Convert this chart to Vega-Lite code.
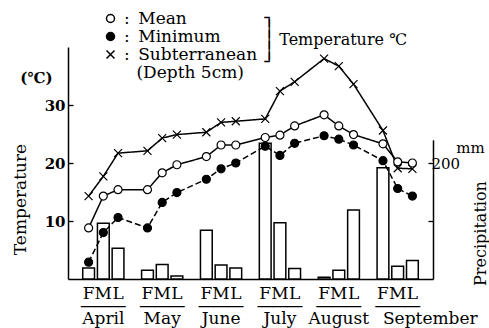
{
  "$schema": "https://vega.github.io/schema/vega-lite/v6.json",
  "width": 365,
  "height": 232,
  "autosize": {"type": "none"},
  "padding": {"left": 68, "top": 47, "right": 56, "bottom": 49},
  "background": "white",
  "config": {
    "view": {"stroke": null},
    "font": "DejaVu Serif",
    "axis": {"domainColor": "black", "tickColor": "black", "labelColor": "black", "titleColor": "black", "domainWidth": 1.5, "tickWidth": 1.3, "grid": false},
    "legend": {"labelColor": "black", "titleColor": "black"}
  },
  "datasets": {
    "rain": [
      {"p": "April F", "mm": 19}, {"p": "April M", "mm": 96}, {"p": "April L", "mm": 53},
      {"p": "May F", "mm": 15}, {"p": "May M", "mm": 25}, {"p": "May L", "mm": 5},
      {"p": "June F", "mm": 84}, {"p": "June M", "mm": 24}, {"p": "June L", "mm": 19},
      {"p": "July F", "mm": 234}, {"p": "July M", "mm": 97}, {"p": "July L", "mm": 18},
      {"p": "August F", "mm": 3}, {"p": "August M", "mm": 15}, {"p": "August L", "mm": 119},
      {"p": "September F", "mm": 192}, {"p": "September M", "mm": 22}, {"p": "September L", "mm": 32}
    ],
    "temps": [
      {"p": "April F", "s": "Mean", "t": 8.8}, {"p": "April M", "s": "Mean", "t": 14.3}, {"p": "April L", "s": "Mean", "t": 15.4},
      {"p": "May F", "s": "Mean", "t": 15.4}, {"p": "May M", "s": "Mean", "t": 18.3}, {"p": "May L", "s": "Mean", "t": 19.7},
      {"p": "June F", "s": "Mean", "t": 21.1}, {"p": "June M", "s": "Mean", "t": 23.1}, {"p": "June L", "s": "Mean", "t": 23.1},
      {"p": "July F", "s": "Mean", "t": 24.4}, {"p": "July M", "s": "Mean", "t": 24.8}, {"p": "July L", "s": "Mean", "t": 26.4},
      {"p": "August F", "s": "Mean", "t": 28.3}, {"p": "August M", "s": "Mean", "t": 26.4}, {"p": "August L", "s": "Mean", "t": 24.9},
      {"p": "September F", "s": "Mean", "t": 23.3}, {"p": "September M", "s": "Mean", "t": 20.2}, {"p": "September L", "s": "Mean", "t": 20.0},
      {"p": "April F", "s": "Minimum", "t": 2.9}, {"p": "April M", "s": "Minimum", "t": 8.0}, {"p": "April L", "s": "Minimum", "t": 10.6},
      {"p": "May F", "s": "Minimum", "t": 8.8}, {"p": "May M", "s": "Minimum", "t": 13.2}, {"p": "May L", "s": "Minimum", "t": 14.9},
      {"p": "June F", "s": "Minimum", "t": 17.2}, {"p": "June M", "s": "Minimum", "t": 19.0}, {"p": "June L", "s": "Minimum", "t": 20.0},
      {"p": "July F", "s": "Minimum", "t": 22.9}, {"p": "July M", "s": "Minimum", "t": 21.3}, {"p": "July L", "s": "Minimum", "t": 23.4},
      {"p": "August F", "s": "Minimum", "t": 24.7}, {"p": "August M", "s": "Minimum", "t": 24.1}, {"p": "August L", "s": "Minimum", "t": 23.1},
      {"p": "September F", "s": "Minimum", "t": 20.4}, {"p": "September M", "s": "Minimum", "t": 15.6}, {"p": "September L", "s": "Minimum", "t": 14.3},
      {"p": "April F", "s": "Subterranean", "t": 14.3}, {"p": "April M", "s": "Subterranean", "t": 17.7}, {"p": "April L", "s": "Subterranean", "t": 21.7},
      {"p": "May F", "s": "Subterranean", "t": 22.1}, {"p": "May M", "s": "Subterranean", "t": 24.3}, {"p": "May L", "s": "Subterranean", "t": 24.9},
      {"p": "June F", "s": "Subterranean", "t": 25.3}, {"p": "June M", "s": "Subterranean", "t": 27.0}, {"p": "June L", "s": "Subterranean", "t": 27.2},
      {"p": "July F", "s": "Subterranean", "t": 27.6}, {"p": "July M", "s": "Subterranean", "t": 32.4}, {"p": "July L", "s": "Subterranean", "t": 34.0},
      {"p": "August F", "s": "Subterranean", "t": 38.0}, {"p": "August M", "s": "Subterranean", "t": 36.7}, {"p": "August L", "s": "Subterranean", "t": 33.6},
      {"p": "September F", "s": "Subterranean", "t": 25.6}, {"p": "September M", "s": "Subterranean", "t": 19.1}, {"p": "September L", "s": "Subterranean", "t": 19.0}
    ]
  },
  "layer": [
    {
      "data": {"name": "rain"},
      "mark": {"type": "bar", "fill": "white", "stroke": "black", "strokeWidth": 1.5},
      "encoding": {
        "x": {
          "field": "p",
          "type": "ordinal",
          "title": null,
          "scale": {
            "domain": ["April F", "April M", "April L", "s1", "May F", "May M", "May L", "s2", "June F", "June M", "June L", "s3", "July F", "July M", "July L", "s4", "August F", "August M", "August L", "s5", "September F", "September M", "September L"],
            "paddingInner": 0.2,
            "paddingOuter": 1.12
          },
          "axis": {
            "orient": "bottom",
            "ticks": false,
            "domainWidth": 1.5,
            "labelAngle": 0,
            "labelFontSize": 17,
            "labelLineHeight": 12.5,
            "labelBaseline": "top",
            "labelPadding": 6,
            "labelOverlap": false,
            "labelLimit": 300,
            "labelExpr": "length(datum.value) < 4 ? '' : [slice(datum.value, -1), '—']"
          }
        },
        "y": {
          "field": "mm",
          "type": "quantitative",
          "scale": {"domain": [0, 240], "range": [232, 92.8], "nice": false},
          "axis": {
            "orient": "right",
            "title": "mm",
            "titleFontSize": 15,
            "titleFontWeight": "normal",
            "titleAngle": 0,
            "titleX": 37,
            "titleY": 100,
            "titleBaseline": "middle",
            "titleAlign": "center",
            "values": [100, 200],
            "tickSize": -5,
            "labelFontSize": 15,
            "labelPadding": 3,
            "labelAlign": "left",
            "labelExpr": "datum.value == 200 ? '200' : ''"
          }
        }
      }
    },
    {
      "data": {"name": "temps"},
      "encoding": {
        "x": {
          "field": "p",
          "type": "ordinal",
          "title": null,
          "scale": {
            "domain": ["April F", "April M", "April L", "s1", "May F", "May M", "May L", "s2", "June F", "June M", "June L", "s3", "July F", "July M", "July L", "s4", "August F", "August M", "August L", "s5", "September F", "September M", "September L"],
            "paddingInner": 0.2,
            "paddingOuter": 1.12
          },
          "axis": {
            "orient": "bottom",
            "domain": false,
            "ticks": false,
            "labelAngle": 0,
            "labelFontSize": 17,
            "labelBaseline": "top",
            "labelPadding": 31,
            "labelOverlap": false,
            "labelLimit": 300,
            "labelAlign": {"condition": {"test": "datum.value == 'September F'", "value": "left"}, "value": "center"},
            "labelExpr": "datum.value == 'September F' ? 'September' : ((length(datum.value) > 3 && datum.value != 'September M' && slice(datum.value, -1) == 'M') ? split(datum.value, ' ')[0] : '')"
          }
        }
      },
      "layer": [
        {
          "mark": {"type": "line", "color": "black", "strokeWidth": 1.5},
          "encoding": {
            "y": {
              "field": "t",
              "type": "quantitative",
              "scale": {"domain": [0, 40], "nice": false},
              "axis": {
                "orient": "left",
                "title": "Temperature",
                "titleFontSize": 17,
                "titleFontWeight": "normal",
                "titleAngle": 270,
                "titleX": -48,
                "titleY": 152,
                "titleBaseline": "middle",
                "titleAlign": "center",
                "values": [10, 20, 30],
                "tickSize": -5,
                "labelFontSize": 15,
                "labelFontWeight": "bold",
                "labelPadding": 8
              }
            },
            "strokeDash": {"field": "s", "type": "nominal", "scale": {"domain": ["Mean", "Minimum", "Subterranean"], "range": [[1, 0], [6, 3], [1, 0]]}, "legend": null},
            "order": {"value": null}
          }
        },
        {
          "mark": {"type": "point", "filled": true, "stroke": "black", "strokeWidth": 1.2, "opacity": 1},
          "encoding": {
            "y": {
              "field": "t",
              "type": "quantitative",
              "scale": {"domain": [0, 40], "nice": false},
              "axis": {
                "orient": "left",
                "domain": false,
                "ticks": false,
                "values": [34.8],
                "labelExpr": "'(℃)'",
                "labelFontSize": 15,
                "labelFontWeight": "bold",
                "labelPadding": 16,
                "title": "Precipitation",
                "titleFontSize": 16,
                "titleFontWeight": "normal",
                "titleAngle": 270,
                "titleX": 412,
                "titleY": 186,
                "titleBaseline": "middle",
                "titleAlign": "center"
              }
            },
            "shape": {
              "field": "s", "type": "nominal",
              "scale": {"domain": ["Mean", "Minimum", "Subterranean", "Depth"], "range": ["circle", "circle", "M-1,-1L1,1M1,-1L-1,1", "M0,0"]},
              "legend": {"orient": "none", "legendX": 34, "legendY": -37, "direction": "vertical", "padding": 0, "title": ["┐", "│", "│ Temperature ℃", "│", "┘"], "titleOrient": "right", "titleAnchor": "start", "titleBaseline": "top", "titleLineHeight": 11, "titleFontSize": 16, "titleFontWeight": "normal", "titlePadding": 7.5, "titleLimit": 300, "labelFontSize": 17, "labelOffset": 5, "labelLimit": 300, "rowPadding": 0, "labelExpr": "datum.label == 'Depth' ? '\u2800(Depth 5cm)' : ':\u2002' + datum.label", "encode": {"symbols": {"update": {"stroke": {"value": "black"}, "strokeWidth": {"value": 1.2}}}}}
            },
            "fill": {
              "field": "s", "type": "nominal",
              "scale": {"domain": ["Mean", "Minimum", "Subterranean", "Depth"], "range": ["white", "black", "white", "white"]},
              "legend": {"orient": "none", "legendX": 34, "legendY": -37, "direction": "vertical", "padding": 0, "title": ["┐", "│", "│ Temperature ℃", "│", "┘"], "titleOrient": "right", "titleAnchor": "start", "titleBaseline": "top", "titleLineHeight": 11, "titleFontSize": 16, "titleFontWeight": "normal", "titlePadding": 7.5, "titleLimit": 300, "labelFontSize": 17, "labelOffset": 5, "labelLimit": 300, "rowPadding": 0, "labelExpr": "datum.label == 'Depth' ? '\u2800(Depth 5cm)' : ':\u2002' + datum.label", "encode": {"symbols": {"update": {"stroke": {"value": "black"}, "strokeWidth": {"value": 1.2}}}}}
            },
            "size": {
              "field": "s", "type": "nominal",
              "scale": {"domain": ["Mean", "Minimum", "Subterranean", "Depth"], "range": [64, 64, 40, 0]},
              "legend": {"orient": "none", "legendX": 34, "legendY": -37, "direction": "vertical", "padding": 0, "title": ["┐", "│", "│ Temperature ℃", "│", "┘"], "titleOrient": "right", "titleAnchor": "start", "titleBaseline": "top", "titleLineHeight": 11, "titleFontSize": 16, "titleFontWeight": "normal", "titlePadding": 7.5, "titleLimit": 300, "labelFontSize": 17, "labelOffset": 5, "labelLimit": 300, "rowPadding": 0, "labelExpr": "datum.label == 'Depth' ? '\u2800(Depth 5cm)' : ':\u2002' + datum.label", "encode": {"symbols": {"update": {"stroke": {"value": "black"}, "strokeWidth": {"value": 1.2}}}}}
            }
          }
        }
      ],
      "resolve": {"axis": {"y": "independent"}}
    }
  ],
  "resolve": {"scale": {"y": "independent"}, "axis": {"x": "independent", "y": "independent"}}
}
